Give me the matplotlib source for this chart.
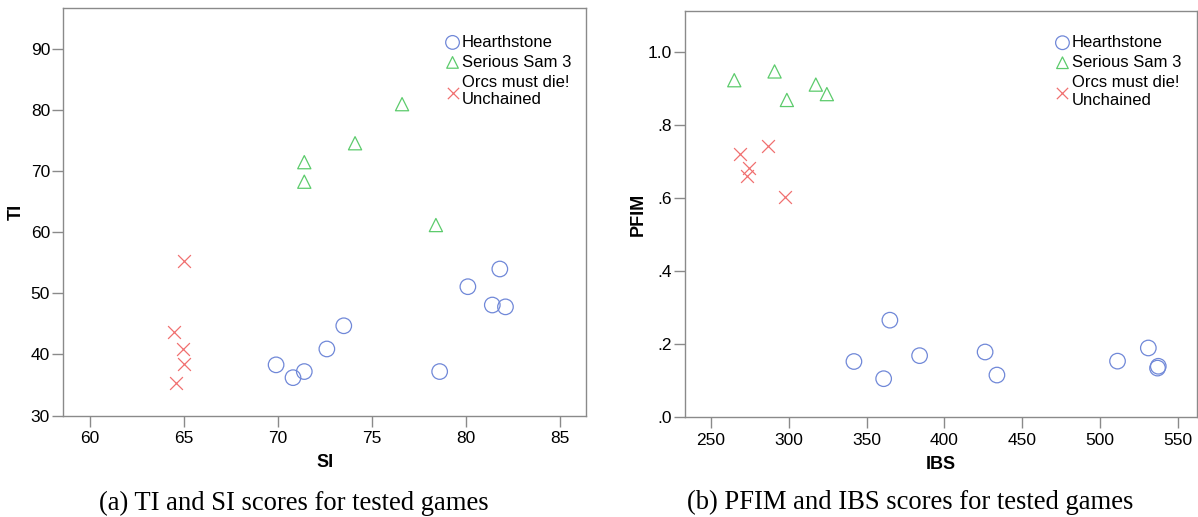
import matplotlib
matplotlib.use("Agg")
import matplotlib.pyplot as plt
from matplotlib.ticker import FuncFormatter

plt.rcParams['font.family'] = ['Liberation Sans', 'DejaVu Sans']

# (a) SI / TI scores
hs_si = [69.9, 70.8, 71.4, 72.6, 73.5, 78.6, 80.1, 81.4, 82.1, 81.8]
hs_ti = [38.3, 36.2, 37.2, 40.9, 44.7, 37.2, 51.1, 48.1, 47.8, 54.0]
ss_si = [71.4, 71.4, 74.1, 76.6, 78.4]
ss_ti = [71.5, 68.3, 74.6, 81.0, 61.2]
om_si = [65.0, 64.45, 64.95, 65.0, 64.6]
om_ti = [55.3, 43.7, 40.9, 38.5, 35.4]

# (b) IBS / PFIM scores
hs_ibs = [341.9, 361.0, 365.0, 384.1, 426.2, 433.8, 511.3, 531.1, 537.5, 537.0]
hs_pfim = [0.153, 0.106, 0.266, 0.169, 0.179, 0.116, 0.154, 0.190, 0.140, 0.135]
ss_ibs = [265.0, 290.9, 298.8, 317.4, 324.5]
ss_pfim = [0.922, 0.946, 0.868, 0.910, 0.884]
om_ibs = [268.9, 274.5, 273.3, 286.8, 297.3]
om_pfim = [0.720, 0.682, 0.661, 0.743, 0.604]

games = ["Hearthstone", "Serious Sam 3", "Orcs must die!\nUnchained"]
si_ticks = [60, 65, 70, 75, 80, 85]
ti_ticks = [30, 40, 50, 60, 70, 80, 90]
ibs_ticks = [250, 300, 350, 400, 450, 500, 550]
pfim_ticks = [0.0, 0.2, 0.4, 0.6, 0.8, 1.0]

blue = '#7088d8'
green = '#5ccb6c'
red = '#f07070'
grey = '#8a8a8a'

fig = plt.figure(figsize=(11.98, 5.17), dpi=100)
ax1 = fig.add_axes([0.0528, 0.1963, 0.4363, 0.7876])
ax2 = fig.add_axes([0.5720, 0.1925, 0.4272, 0.7868])


def draw_points(ax, hx, hy, sx, sy, ox, oy):
    ax.scatter(hx, hy, s=125, facecolors='none', edgecolors=blue, linewidths=0.9, label=games[0])
    ax.scatter(sx, sy, s=90, marker='^', facecolors='none', edgecolors=green, linewidths=0.9, label=games[1])
    ax.scatter(ox, oy, s=85, marker='x', color=red, linewidths=0.9, label=games[2])


def style_axes(ax):
    for sp in ax.spines.values():
        sp.set_color(grey)
        sp.set_linewidth(1.0)
    ax.tick_params(direction='out', length=8, width=1, color=grey, labelsize=12.5, pad=1.5)
    ax.tick_params(axis='x', pad=3)


def add_legend(ax, x, y):
    ax.legend(loc='upper left', bbox_to_anchor=(x, y), frameon=False, fontsize=12,
              markerscale=0.88, handlelength=0.8, handletextpad=0.15, labelspacing=0.3,
              borderpad=0, borderaxespad=0)


draw_points(ax1, hs_si, hs_ti, ss_si, ss_ti, om_si, om_ti)
ax1.set_xlim(58.58, 86.38)
ax1.set_ylim(30, 96.7)
ax1.set_xticks(si_ticks)
ax1.set_yticks(ti_ticks)
style_axes(ax1)
ax1.set_xlabel("SI", fontsize=13, fontweight='bold')
ax1.set_ylabel("TI", fontsize=13, fontweight='bold')
ax1.xaxis.set_label_coords(0.5, -0.095)
ax1.yaxis.set_label_coords(-0.073, 0.5)
add_legend(ax1, 0.732, 0.935)

draw_points(ax2, hs_ibs, hs_pfim, ss_ibs, ss_pfim, om_ibs, om_pfim)
ax2.set_xlim(233.5, 562.4)
ax2.set_ylim(0, 1.112)
ax2.set_xticks(ibs_ticks)
ax2.set_yticks(pfim_ticks)
ax2.yaxis.set_major_formatter(FuncFormatter(lambda v, p: '{:.1f}'.format(v).lstrip('0')))
style_axes(ax2)
ax2.set_xlabel("IBS", fontsize=13, fontweight='bold')
ax2.set_ylabel("PFIM", fontsize=13, fontweight='bold')
ax2.xaxis.set_label_coords(0.5, -0.095)
ax2.yaxis.set_label_coords(-0.076, 0.5)
add_legend(ax2, 0.724, 0.94)

# captions under each panel
fig.text(294 / 1198, 1 - 503 / 517, "(a) TI and SI scores for tested games",
         family=['Liberation Serif', 'DejaVu Serif'], fontsize=19.2, ha='center', va='center')
fig.text(910 / 1198, 1 - 502 / 517, "(b) PFIM and IBS scores for tested games",
         family=['Liberation Serif', 'DejaVu Serif'], fontsize=19.2, ha='center', va='center')

fig.savefig("out.png", dpi=100)
